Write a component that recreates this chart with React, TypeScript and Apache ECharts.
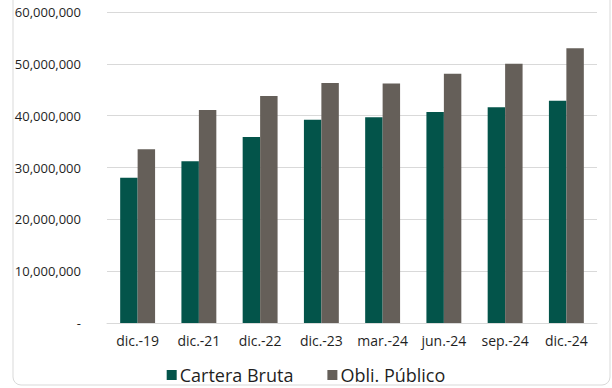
import React, { useEffect, useRef } from "react";
import * as echarts from "echarts";

const categories = ["dic.-19", "dic.-21", "dic.-22", "dic.-23", "mar.-24", "jun.-24", "sep.-24", "dic.-24"];
const carteraBruta = [28000000, 31200000, 35900000, 39200000, 39700000, 40700000, 41600000, 42900000];
const obliPublico = [33500000, 41100000, 43800000, 46300000, 46200000, 48100000, 50000000, 53000000];
const seriesNames = ["Cartera Bruta", "Obli. Público"];

const FONT = "Open Sans";
const TEXT = "#1f1f1f";

export default function App() {
  const ref = useRef<HTMLDivElement>(null);
  useEffect(() => {
    if (!ref.current) return;
    const chart = echarts.init(ref.current, undefined, { renderer: "svg" });
    chart.setOption({
      animation: false,
      backgroundColor: "#ffffff",
      textStyle: { fontFamily: FONT },
      graphic: [
        {
          type: "rect",
          shape: { x: 13, y: -20, width: 597, height: 405, r: 8 },
          style: { fill: "none", stroke: "#d9d9d9", lineWidth: 1 },
          silent: true,
        },
      ],
      grid: { left: 107, right: 15, top: 12, bottom: 65, containLabel: false },
      legend: {
        data: seriesNames,
        top: 361,
        left: "center",
        itemWidth: 10,
        itemHeight: 10,
        itemGap: 34,
        icon: "rect",
        textStyle: { fontFamily: FONT, fontSize: 18, color: TEXT, padding: [0, 0, 0, -2] },
      },
      xAxis: {
        type: "category",
        data: categories,
        axisTick: { show: false },
        axisLine: { lineStyle: { color: "#d9d9d9", width: 1 } },
        axisLabel: { fontFamily: FONT, fontSize: 14, color: TEXT, margin: 10, interval: 0, hideOverlap: false },
      },
      yAxis: {
        type: "value",
        min: 0,
        max: 60000000,
        interval: 10000000,
        axisLine: { show: false },
        axisTick: { show: false },
        splitLine: { lineStyle: { color: "#d9d9d9", width: 1 } },
        axisLabel: {
          fontFamily: FONT,
          fontSize: 13,
          color: TEXT,
          margin: 26,
          formatter: (v: number) => (v === 0 ? "-" : v.toLocaleString("en-US")),
        },
      },
      series: [
        {
          name: seriesNames[0],
          type: "bar",
          data: carteraBruta,
          itemStyle: { color: "#03544a" },
          barGap: "0%",
          barCategoryGap: "43%",
        },
        {
          name: seriesNames[1],
          type: "bar",
          data: obliPublico,
          itemStyle: { color: "#655f59" },
          barGap: "0%",
          barCategoryGap: "43%",
        },
      ],
    });
    return () => chart.dispose();
  }, []);
  return (
    <div
      ref={ref}
      style={{ position: "fixed", left: 0, top: 0, width: 612, height: 388 }}
    />
  );
}
